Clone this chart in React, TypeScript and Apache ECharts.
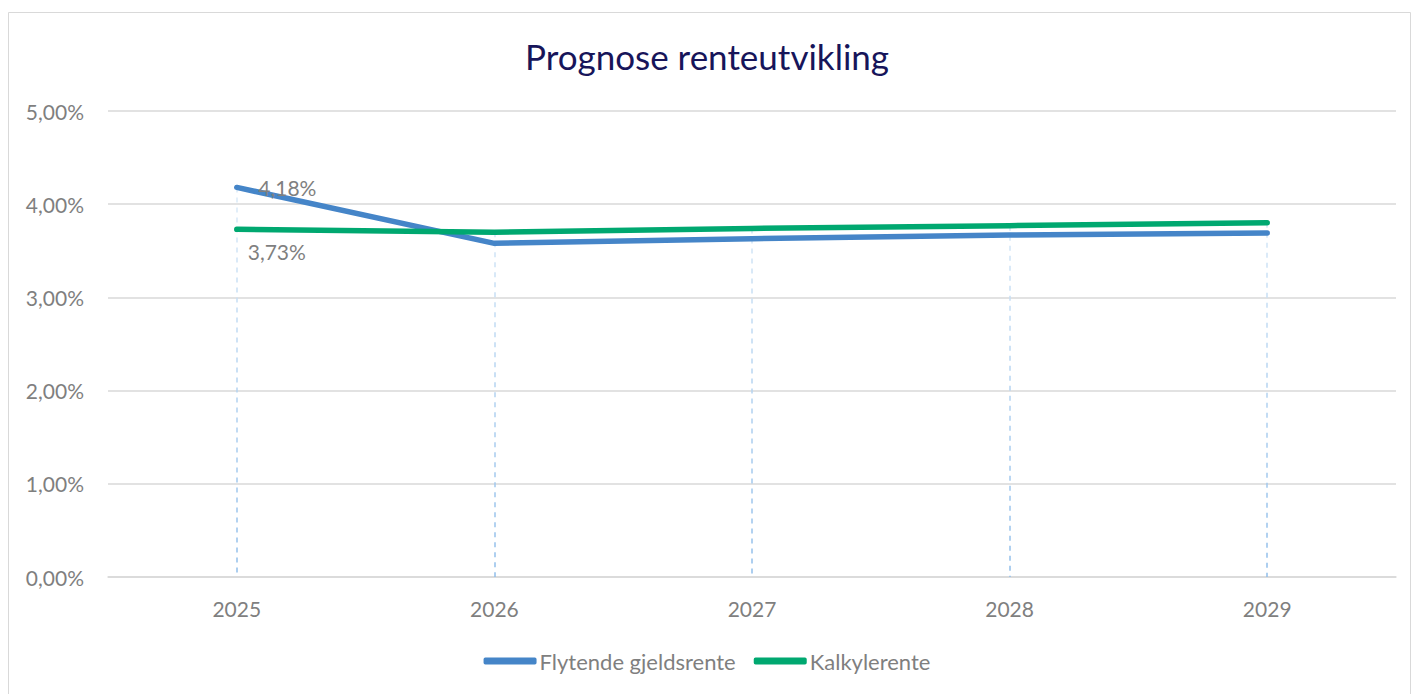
import React, { useEffect, useRef } from "react";
import * as echarts from "echarts";

const categories = ["2025", "2026", "2027", "2028", "2029"];
const flytende = [4.18, 3.58, 3.63, 3.67, 3.69];
const kalkyle = [3.73, 3.7, 3.74, 3.77, 3.8];
const yTicks = { min: 0, max: 5, interval: 1 };

const FONT = "Lato";
const GRAY = "#7f7f7f";

export default function App() {
  const ref = useRef<HTMLDivElement>(null);
  useEffect(() => {
    if (!ref.current) return;
    const chart = echarts.init(ref.current, null, { renderer: "svg" });
    const fmt = (v: number) => v.toFixed(2).replace(".", ",") + "%";
    const dropData = categories.map((c, i) => [
      { coord: [c, Math.max(flytende[i], kalkyle[i])] },
      { coord: [c, 0] },
    ]);
    chart.setOption({
      animation: false,
      backgroundColor: "#ffffff",
      textStyle: { fontFamily: FONT },
      title: {
        text: "Prognose renteutvikling",
        left: "center",
        top: 33,
        textStyle: { fontFamily: FONT, fontSize: 35, fontWeight: "normal", color: "#17155a" },
      },
      graphic: [
        {
          type: "rect",
          shape: { x: 8.5, y: 12.5, width: 1402, height: 700 },
          style: { fill: "none", stroke: "#d9d9d9", lineWidth: 1 },
          silent: true,
        },
      ],
      legend: {
        top: 645,
        left: "center",
        icon: "roundRect",
        itemWidth: 53,
        itemHeight: 7,
        itemGap: 18,
        textStyle: { fontFamily: FONT, fontSize: 22, color: GRAY, padding: [0, 0, 0, -2] },
        data: ["Flytende gjeldsrente", "Kalkylerente"],
      },
      grid: { left: 108, right: 18, top: 111, bottom: 117 },
      xAxis: {
        type: "category",
        data: categories,
        boundaryGap: true,
        axisLine: { lineStyle: { color: "#d9d9d9", width: 1.5 } },
        axisTick: { show: false },
        axisLabel: { fontFamily: FONT, fontSize: 21, color: GRAY, margin: 21 },
      },
      yAxis: {
        type: "value",
        min: yTicks.min,
        max: yTicks.max,
        interval: yTicks.interval,
        axisLine: { show: false },
        axisTick: { show: false },
        splitLine: { lineStyle: { color: "#d9d9d9", width: 1.5 } },
        axisLabel: { fontFamily: FONT, fontSize: 21, color: GRAY, margin: 24, formatter: (v: number) => fmt(v) },
      },
      series: [
        {
          name: "Flytende gjeldsrente",
          type: "line",
          z: 3,
          data: flytende.map((v, i) =>
            i === 0
              ? { value: v, label: { show: true, position: "right", distance: 21 } }
              : v
          ),
          symbol: "circle",
          symbolSize: 1,
          lineStyle: { color: "#4585c8", width: 5.5, cap: "round" },
          itemStyle: { color: "#4585c8" },
          label: { show: false, fontFamily: FONT, fontSize: 21, color: GRAY, formatter: (p: any) => fmt(p.value) },
          markLine: {
            silent: true,
            symbol: ["none", "none"],
            label: { show: false },
            z: 1,
            lineStyle: {
              type: [5, 5],
              width: 1.5,
              color: new echarts.graphic.LinearGradient(
                0, 190, 0, 577,
                [
                  { offset: 0, color: "#dcebf8" },
                  { offset: 1, color: "#8fbdea" },
                ],
                true
              ),
            },
            emphasis: { disabled: true },
            data: dropData,
          },
        },
        {
          name: "Kalkylerente",
          type: "line",
          z: 4,
          data: kalkyle.map((v, i) =>
            i === 0
              ? { value: v, label: { show: true, position: "bottom", distance: 11, offset: [40, 0] } }
              : v
          ),
          symbol: "circle",
          symbolSize: 1,
          lineStyle: { color: "#00a870", width: 5.5, cap: "round" },
          itemStyle: { color: "#00a870" },
          label: { show: false, fontFamily: FONT, fontSize: 21, color: GRAY, formatter: (p: any) => fmt(p.value) },
        },
      ],
    });
    return () => chart.dispose();
  }, []);
  return (
    <div
      ref={ref}
      style={{ position: "absolute", left: 0, top: 0, width: 1414, height: 694 }}
    />
  );
}
